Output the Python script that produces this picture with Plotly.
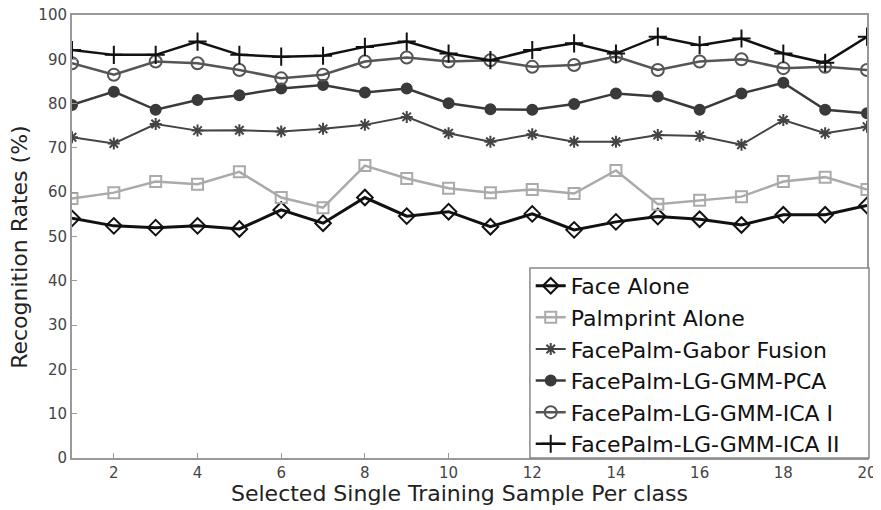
import plotly.graph_objects as go

samples = list(range(1, 21))
face_alone = [54.1, 52.4, 52.0, 52.4, 51.7, 56.0, 53.0, 58.8, 54.6, 55.6,
              52.2, 55.1, 51.5, 53.3, 54.5, 53.9, 52.6, 54.9, 54.9, 57.0]
palmprint_alone = [58.6, 59.9, 62.4, 61.8, 64.6, 58.8, 56.5, 66.0, 63.1, 60.9,
                   59.9, 60.6, 59.7, 64.9, 57.3, 58.2, 59.0, 62.4, 63.4, 60.6]
gabor_fusion = [72.4, 71.0, 75.4, 73.9, 74.0, 73.7, 74.3, 75.2, 77.0, 73.3,
                71.4, 73.1, 71.4, 71.4, 72.9, 72.7, 70.7, 76.3, 73.3, 74.8]
lg_gmm_pca = [79.7, 82.7, 78.6, 80.8, 81.9, 83.4, 84.2, 82.5, 83.4, 80.1,
              78.7, 78.6, 79.9, 82.3, 81.6, 78.6, 82.3, 84.7, 78.6, 77.8]
lg_gmm_ica1 = [89.1, 86.5, 89.5, 89.1, 87.6, 85.7, 86.5, 89.5, 90.4, 89.5,
               89.8, 88.3, 88.7, 90.6, 87.6, 89.5, 90.0, 88.0, 88.3, 87.6]
lg_gmm_ica2 = [92.1, 91.0, 91.0, 94.0, 91.0, 90.6, 90.8, 92.8, 94.0, 91.3,
               89.8, 92.1, 93.6, 91.3, 95.1, 93.2, 94.7, 91.3, 89.2, 95.1]

x_ticks = [2, 4, 6, 8, 10, 12, 14, 16, 18, 20]
y_ticks = [0, 10, 20, 30, 40, 50, 60, 70, 80, 90, 100]
x_title = "Selected Single Training Sample Per class"
y_title = "Recognition Rates (%)"

series = [
    ("Face Alone", face_alone, "#111111", "diamond-open", 12, 3),
    ("Palmprint Alone", palmprint_alone, "#aaaaaa", "square-open", 11, 2.5),
    ("FacePalm-Gabor Fusion", gabor_fusion, "#444444", "asterisk-open", 10, 2),
    ("FacePalm-LG-GMM-PCA", lg_gmm_pca, "#3a3a3a", "circle", 10, 2.5),
    ("FacePalm-LG-GMM-ICA I", lg_gmm_ica1, "#555555", "circle-open", 12, 2.5),
    ("FacePalm-LG-GMM-ICA II", lg_gmm_ica2, "#111111", "cross-thin-open", 13, 2.5),
]

FONT = "DejaVu Sans, Verdana, sans-serif"

fig = go.Figure()
for name, vals, color, sym, size, lw in series:
    fig.add_trace(go.Scatter(
        x=samples, y=vals, name=name, mode="lines+markers",
        line=dict(color=color, width=lw),
        marker=dict(symbol=sym, size=size, color=color,
                    line=dict(color=color, width=2)),
    ))

axis_common = dict(
    showline=True, linecolor="#999999", linewidth=2, mirror=True,
    ticks="inside", ticklen=5, tickcolor="#999999", tickwidth=1,
    showgrid=False, zeroline=False, automargin=False,
    ticklabeloverflow="allow",
    tickfont=dict(family=FONT, size=15, color="#444444"),
)

# The page body has a small default margin, so the figure is sized to fit the window.
fig.update_layout(
    width=873, height=502,
    margin=dict(l=64, r=14, t=7, b=52, autoexpand=False),
    paper_bgcolor="white", plot_bgcolor="white",
    font=dict(family=FONT, color="#222222"),
    xaxis=dict(range=[1, 20], tickvals=x_ticks, **axis_common),
    yaxis=dict(range=[0, 100], tickvals=y_ticks, **axis_common),
    legend=dict(x=0.577, y=0.21, xanchor="left", yanchor="middle",
                bgcolor="rgba(0,0,0,0)", borderwidth=0,
                font=dict(size=22, color="#111111"),
                itemwidth=30, tracegroupgap=0),
    showlegend=True,
    shapes=[
        dict(type="rect", xref="paper", yref="paper",
             x0=0.576, x1=1.0025, y0=0.0, y1=0.429,
             line=dict(color="#888888", width=1.5), fillcolor="white",
             layer="above"),
    ],
    annotations=[
        dict(text=x_title, xref="paper", yref="paper", x=0.488, y=-0.08,
             xanchor="center", yanchor="middle", showarrow=False,
             font=dict(family=FONT, size=22, color="#222222")),
        dict(text=y_title, xref="paper", yref="paper", x=-0.067, y=0.476,
             xanchor="center", yanchor="middle", showarrow=False, textangle=-90,
             font=dict(family=FONT, size=22, color="#222222")),
    ],
)

fig.write_html("out.html")
